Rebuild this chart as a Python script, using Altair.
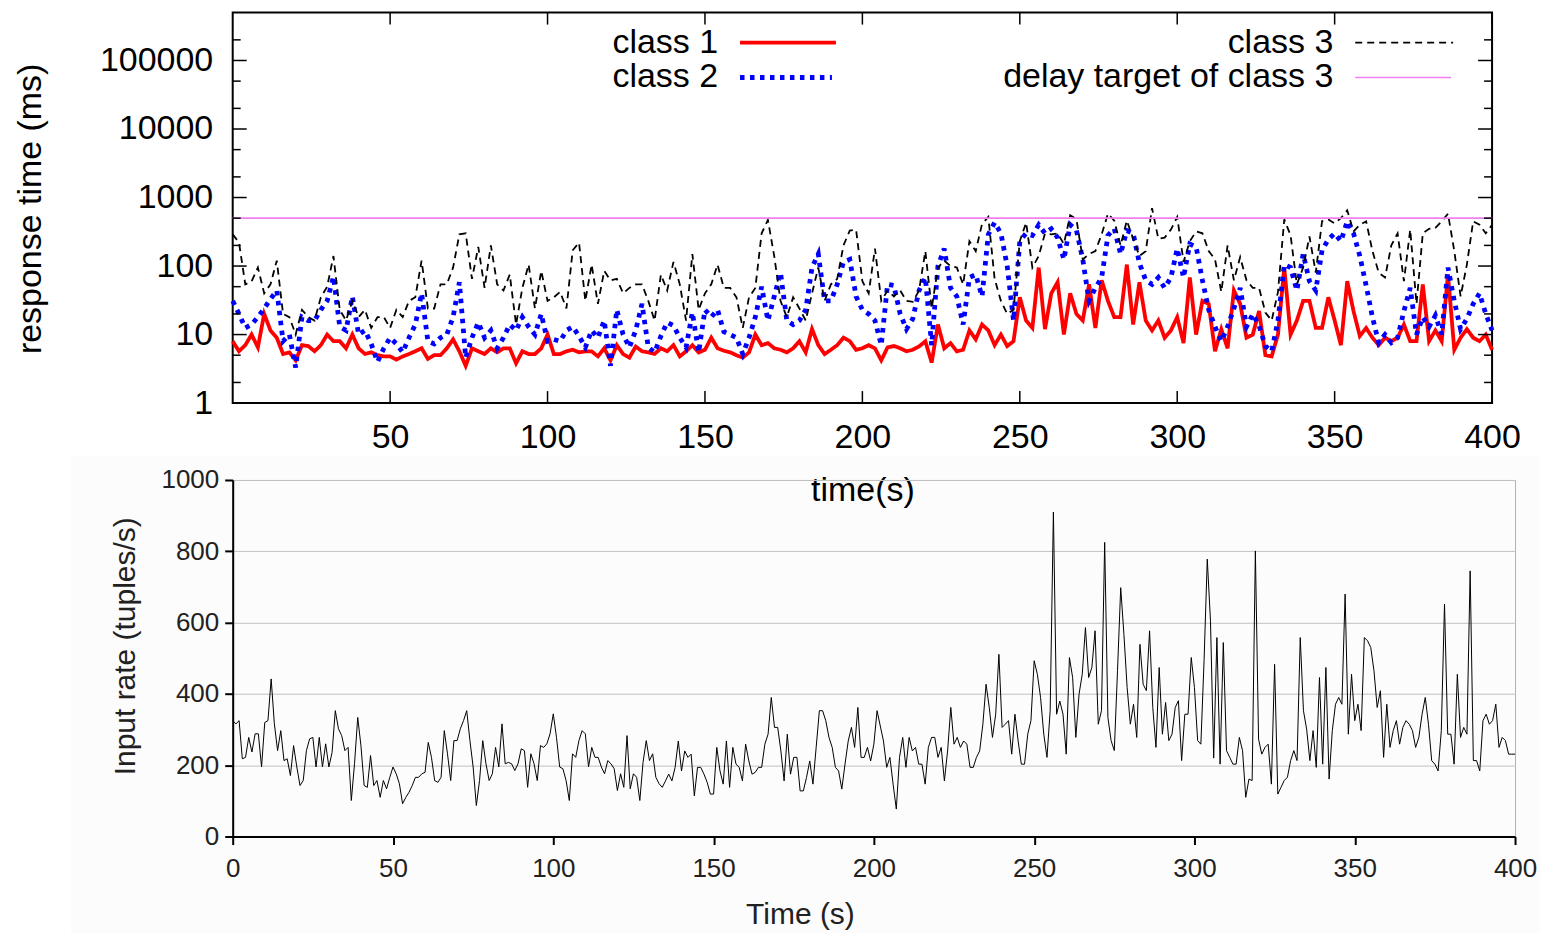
import altair as alt
import pandas as pd

# ---------------- data ----------------
T_TOP = list(range(0, 401, 2))

CLASS1 = [8, 5.7, 7, 10, 6.5, 20, 11.5, 9, 5.2, 5.5, 4.2, 7, 6.8, 5.7, 7, 10, 8, 8, 6.3, 10,
          6.3, 5.2, 5.5, 5, 4.8, 4.8, 4.3, 4.8, 5.2, 5.7, 6.3, 4.4, 5, 5, 6.3, 8.5, 5.7, 3.5, 6.3, 5.7,
          5.2, 6.3, 5.5, 6.3, 6.3, 3.8, 5.7, 5.2, 5.2, 6.3, 10,
          5.2, 5.2, 5.7, 6, 5.5, 5.7, 5.7, 4.8, 6.3, 4.2, 7, 5.2, 4.6, 6.7, 5.7, 5.5, 5.2, 6.3, 5.7, 7,
          4.8, 5.7, 7, 5.5, 6, 9, 6.3, 5.8, 5.5, 5, 4.6, 5.5, 10, 7, 7.5, 6.3, 6, 5.5, 6.3, 8,
          5.5, 12, 7, 5.2, 6, 7, 9, 8, 6, 6.3,
          7, 6.3, 4.2, 6.5, 6.8, 6.3, 5.7, 6, 6.7, 8, 3.9, 14, 6.3, 7.5, 5.7, 6, 11.5, 8.5, 14, 11.5,
          7, 10, 6.8, 8, 35, 16, 12.5, 95, 12, 40, 58, 10, 40, 20, 16, 54, 12.5, 62, 31, 18,
          18, 105, 14, 58, 16, 11.5, 16, 9, 11.5, 18,
          7.5, 68, 10, 31, 28, 5.7, 12, 6.3, 44, 28, 9, 10, 22, 5, 4.8, 10, 95, 10, 16, 31,
          31, 12.5, 12.5, 35, 16, 7, 60, 22, 9.5, 12.5, 9, 7, 9, 8, 9, 14, 8, 8, 54, 8,
          11.5, 8, 75, 6, 9, 12, 9, 8, 10, 6]

CLASS2 = [31, 20, 12.5, 14, 18, 24, 33, 44, 8, 10, 3.3, 18, 16, 16, 23, 31, 70, 13, 11.5, 36,
          10, 11.5, 7.3, 4, 6.3, 9, 7.3, 5.5, 9, 14, 40, 8, 7.3, 9, 10, 18, 58, 4.6, 9, 15,
          9, 11.5, 6.3, 9, 14, 11.5, 18, 13, 10, 20, 8,
          8.5, 8, 11.5, 13, 9.5, 6.5, 11.5, 9, 16, 3.5, 23, 10, 6.5, 11.5, 28, 6.5, 5.5, 9.5, 15, 13.5,
          9, 6.5, 21, 5.5, 23, 18, 23, 11, 10, 9, 5.2, 9, 18, 50, 16, 36, 80, 16, 14, 16,
          23, 95, 150, 31, 31, 54, 115, 125, 36, 23,
          20, 16, 7, 54, 52, 20, 12, 17, 44, 68, 7, 100, 180, 48, 36, 14, 68, 75, 36, 290,
          430, 300, 100, 16, 230, 300, 280, 400, 300, 350, 260, 125, 400, 330, 125, 31, 48, 68, 280, 350,
          150, 330, 300, 110, 62, 54, 68, 48, 68, 180,
          68, 210, 190, 62, 23, 13, 8, 13, 24, 48, 13, 20, 13.5, 6.8, 5.7, 16, 105, 95, 44, 150,
          60, 44, 170, 245, 300, 230, 450, 300, 140, 52, 18, 7.6, 10, 7.6, 9, 22, 48, 10, 18, 13,
          19, 10, 95, 31, 12, 17, 28, 40, 20, 11.5]

CLASS3 = [290, 220, 54, 60, 95, 40, 54, 120, 20, 18, 10, 23, 18, 16, 35, 50, 140, 23, 16, 31,
          18, 23, 12.5, 18, 18, 12.5, 23, 18, 31, 35, 120, 24, 24, 54, 54, 95, 290, 300, 65, 190,
          48, 200, 54, 44, 75, 14, 48, 105, 24, 85, 31,
          35, 42, 24, 170, 220, 31, 105, 28, 85, 62, 65, 40, 48, 54, 54, 31, 16, 75, 44, 115,
          54, 16, 150, 23, 40, 54, 105, 48, 48, 35, 12.5, 35, 48, 300, 470, 140, 31, 18, 35, 24,
          16, 40, 95, 31, 54, 65, 200, 330, 340, 60,
          40, 180, 31, 44, 36, 44, 31, 30, 44, 165, 24, 95, 120, 100, 95, 54, 230, 165, 410, 520,
          65, 31, 20, 23, 230, 430, 95, 140, 300, 290, 300, 210, 550, 480, 125, 150, 165, 290, 580, 460,
          200, 460, 250, 140, 165, 700, 250, 260, 340, 520,
          115, 230, 320, 300, 166, 125, 42, 200, 62, 135, 62, 48, 48, 21, 16, 42, 480, 280, 54, 95,
          270, 80, 450, 480, 420, 500, 650, 320, 400, 450, 166, 80, 68, 200, 300, 60, 340, 28, 300, 350,
          360, 450, 580, 166, 36, 105, 450, 400, 300, 400]

TARGET = [500]

T_RATE = list(range(0, 401))
RATE = [325, 316, 325, 218, 222, 278, 237, 288, 288, 195,
        320, 325, 442, 316, 241, 297, 213, 218, 171, 255,
        195, 143, 157, 241, 274, 278, 195, 278, 195, 260,
        195, 236, 353, 302, 283, 241, 250, 101, 204, 334,
        255, 143, 138, 227, 143, 157, 110, 157, 134, 166,
        195, 176, 148, 92, 110, 124, 143, 166, 166, 176,
        180, 264, 222, 157, 152, 166, 297, 232, 157, 269,
        269, 302, 325, 353, 269, 195, 87, 157, 269, 204,
        157, 176, 250, 195, 316, 204, 208, 204, 185, 204,
        246, 241, 138, 232, 204, 157, 255, 250, 260, 288,
        344, 278, 195, 190, 157, 101, 232, 222, 269, 297,
        288, 195, 250, 222, 222, 195, 176, 213, 204, 190,
        129, 176, 138, 283, 134, 176, 166, 101, 208, 269,
        213, 232, 166, 148,
        138, 156, 175, 156, 194, 268, 184, 240, 222, 231,
        114, 194, 194, 175, 152, 119, 119, 250, 184, 147,
        268, 138, 250, 203, 194, 156, 259, 212, 175, 180,
        194, 194, 259, 287, 390, 306, 306, 240, 156, 287,
        175, 222, 222, 128, 128, 166, 212, 147, 250, 353,
        353, 325, 278, 250, 194, 184, 133, 203, 268, 306,
        250, 362, 222, 222, 250, 212, 259, 353, 310, 268,
        194, 222, 147, 77, 222, 278, 194, 278, 240, 250,
        203, 203, 147, 250, 278, 278, 222, 250, 156, 240,
        362, 259, 278, 250, 268, 259, 194, 194, 222, 240,
        315, 427, 362, 278, 343, 511, 306, 315, 325, 231,
        343, 268, 203, 203, 287, 325, 493, 455, 390, 287,
        222, 353, 910, 343, 380, 343, 231, 502, 446, 278,
        399, 455, 586, 446, 474, 577, 315,
        353, 825, 334, 269, 241, 465, 698, 567, 418, 315,
        371, 278, 539, 427, 409, 577, 362, 250, 474, 287,
        376, 269, 287, 362, 381, 213, 343, 343, 502, 418,
        269, 259, 493, 778, 605, 220, 558, 203, 544, 241,
        222, 203, 203, 278, 241, 110, 161, 157, 801, 273,
        231, 250, 259, 147, 483, 119, 138, 157, 166, 213,
        241, 213, 558, 353, 301, 213, 297, 194, 446, 203,
        474, 161, 297, 371, 390, 371, 680, 287, 455, 325,
        371, 297, 558, 549, 530, 465, 362, 409, 222, 371,
        250, 297, 325, 259, 306, 325, 315, 297, 250, 278,
        343, 390, 315, 213, 203, 184, 297, 652, 287, 287,
        203, 455, 278, 306, 287, 745, 213, 213, 184, 325,
        343, 315, 325, 371, 250, 278, 269, 231, 231, 231]

LEGEND_LABELS = ["class 1", "class 2", "class 3", "delay target of class 3"]

Y_MAJOR = [1, 10, 100, 1000, 10000, 100000]
Y_MINOR = [2, 5, 20, 50, 200, 500, 2000, 5000, 20000, 50000, 200000]
X_TICKS_TOP = [50, 100, 150, 200, 250, 300, 350, 400]
X_TICKS_BOTTOM = [0, 50, 100, 150, 200, 250, 300, 350, 400]
Y_TICKS_BOTTOM = [0, 200, 400, 600, 800, 1000]

# ---------------- layout / style ----------------
FONT = "Liberation Sans"
W1, H1 = 1261, 391
W2, H2 = 1284, 357

xs1 = alt.Scale(domain=[0, 400], nice=False, zero=False)
ys1 = alt.Scale(type="log", domain=[1, 500000], nice=False)

ax_x1 = alt.Axis(values=X_TICKS_TOP, ticks=False, domain=False, grid=False,
                 labelFont=FONT, labelFontSize=34, labelColor="black", labelPadding=17,
                 labelFlush=False, labelOverlap=False,
                 title="time(s)", titleFont=FONT, titleFontSize=34, titleFontWeight="normal",
                 titleColor="black", titleY=88, titleBaseline="middle")
ax_y1 = alt.Axis(values=Y_MAJOR, format="d", ticks=False, domain=False, grid=False,
                 labelFont=FONT, labelFontSize=34, labelColor="black", labelPadding=20,
                 labelOverlap=False,
                 title="response time (ms)", titleFont=FONT, titleFontSize=34,
                 titleFontWeight="normal", titleColor="black", titleX=-202, titleY=196,
                 titleBaseline="middle", titleAngle=270)

X1 = alt.X("t:Q", scale=xs1, axis=ax_x1)
Y1 = alt.Y("v:Q", scale=ys1, axis=ax_y1)

d1 = pd.DataFrame({"t": T_TOP, "v": CLASS1})
d2 = pd.DataFrame({"t": T_TOP, "v": CLASS2})
d3 = pd.DataFrame({"t": T_TOP, "v": CLASS3})
dtarget = pd.DataFrame({"v": TARGET})

red = alt.Chart(d1).mark_line(color="#ff0000", strokeWidth=3.8).encode(x=X1, y=Y1)
blue = alt.Chart(d2).mark_line(color="#0000ff", strokeWidth=4.8, strokeDash=[4.5, 5.5],
                               strokeCap="butt").encode(x=X1, y=Y1)
black = alt.Chart(d3).mark_line(color="black", strokeWidth=1.8, strokeDash=[7, 5],
                                strokeCap="butt").encode(x=X1, y=Y1)
target = alt.Chart(dtarget).mark_rule(color="#f080f0", strokeWidth=1.6).encode(y=Y1)

dmaj = pd.DataFrame({"v": Y_MAJOR})
dmin = pd.DataFrame({"v": Y_MINOR})
dxt = pd.DataFrame({"t": X_TICKS_TOP})
tick_layers = [
    alt.Chart(dmaj).mark_rule(color="black", strokeWidth=1.5).encode(y=Y1, x=alt.value(0), x2=alt.value(14)),
    alt.Chart(dmaj).mark_rule(color="black", strokeWidth=1.5).encode(y=Y1, x=alt.value(W1), x2=alt.value(W1 - 14)),
    alt.Chart(dmin).mark_rule(color="black", strokeWidth=1.5).encode(y=Y1, x=alt.value(0), x2=alt.value(8)),
    alt.Chart(dmin).mark_rule(color="black", strokeWidth=1.5).encode(y=Y1, x=alt.value(W1), x2=alt.value(W1 - 8)),
    alt.Chart(dxt).mark_rule(color="black", strokeWidth=1.5).encode(x=X1, y=alt.value(H1), y2=alt.value(H1 - 12)),
    alt.Chart(dxt).mark_rule(color="black", strokeWidth=1.5).encode(x=X1, y=alt.value(0), y2=alt.value(12)),
]


def legend_text(label, x, y):
    return alt.Chart(pd.DataFrame({"label": [label]})).mark_text(
        align="right", baseline="middle", font=FONT, fontSize=34, color="black"
    ).encode(text="label:N", x=alt.value(x), y=alt.value(y))


legend_layers = [
    legend_text(LEGEND_LABELS[0], 486, 30),
    legend_text(LEGEND_LABELS[1], 486, 65),
    legend_text(LEGEND_LABELS[2], 1102, 30),
    legend_text(LEGEND_LABELS[3], 1102, 65),
    alt.Chart(pd.DataFrame({"a": [0]})).mark_rule(color="#ff0000", strokeWidth=3.8).encode(
        x=alt.value(508), x2=alt.value(604), y=alt.value(30)),
    alt.Chart(pd.DataFrame({"a": [0]})).mark_rule(color="#0000ff", strokeWidth=4.8, strokeDash=[4.5, 5.5],
                                                  strokeCap="butt").encode(
        x=alt.value(508), x2=alt.value(600), y=alt.value(65)),
    alt.Chart(pd.DataFrame({"a": [0]})).mark_rule(color="black", strokeWidth=1.8, strokeDash=[7, 5],
                                                  strokeCap="butt").encode(
        x=alt.value(1124), x2=alt.value(1222), y=alt.value(30)),
    alt.Chart(pd.DataFrame({"a": [0]})).mark_rule(color="#f080f0", strokeWidth=1.6).encode(
        x=alt.value(1124), x2=alt.value(1220), y=alt.value(65)),
]

top = alt.layer(red, blue, black, target, *tick_layers, *legend_layers).properties(
    width=W1, height=H1, view=alt.ViewBackground(stroke="black", strokeWidth=2)
)

# ---------------- bottom panel ----------------
xs2 = alt.Scale(domain=[0, 400], nice=False, zero=False)
ys2 = alt.Scale(domain=[0, 1000], nice=False)
ax_x2 = alt.Axis(values=X_TICKS_BOTTOM, grid=False, domain=True, domainColor="black", domainWidth=2,
                 ticks=True, tickColor="black", tickWidth=2, tickSize=8,
                 labelFont=FONT, labelFontSize=26, labelColor="#222222", labelPadding=11,
                 labelFlush=False, labelOverlap=False,
                 title="Time (s)", titleFont=FONT, titleFontSize=30, titleFontWeight="normal",
                 titleColor="#222222", titleX=568, titleY=78, titleBaseline="middle")
ax_y2 = alt.Axis(values=Y_TICKS_BOTTOM, format="d", grid=True, gridColor="#c4c4c4", gridWidth=1,
                 domain=True, domainColor="black", domainWidth=2,
                 ticks=True, tickColor="black", tickWidth=2, tickSize=8,
                 labelFont=FONT, labelFontSize=26, labelColor="#222222", labelPadding=6,
                 labelOverlap=False,
                 title="Input rate (tuples/s)", titleFont=FONT, titleFontSize=30,
                 titleFontWeight="normal", titleColor="#222222", titleX=-107, titleY=166,
                 titleBaseline="middle", titleAngle=270)

drate = pd.DataFrame({"t": T_RATE, "v": RATE})
shade = alt.Chart(pd.DataFrame({"a": [0]})).mark_rect(color="black", opacity=0.012).encode(
    x=alt.value(-162), x2=alt.value(1309), y=alt.value(-24), y2=alt.value(454))
rate = alt.Chart(drate).mark_line(color="black", strokeWidth=1).encode(
    x=alt.X("t:Q", scale=xs2, axis=ax_x2), y=alt.Y("v:Q", scale=ys2, axis=ax_y2))

bottom = alt.layer(shade, rate).properties(
    width=W2, height=H2, view=alt.ViewBackground(stroke="#b4b4b4", strokeWidth=1)
)

chart = alt.vconcat(top, bottom, spacing=77, bounds="flush").properties(
    padding={"left": 13, "top": 10, "right": 0, "bottom": 0},
    background="white",
)

chart.save("out.html", embed_options={"renderer": "svg", "actions": False})
